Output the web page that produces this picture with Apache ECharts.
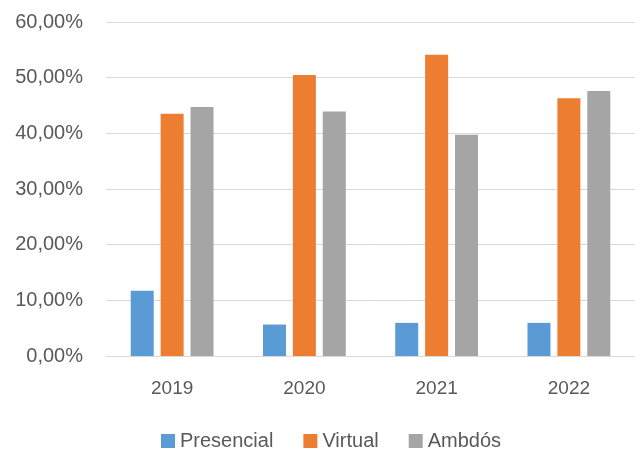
<!DOCTYPE html>
<html>
<head>
<meta charset="utf-8">
<script src="https://cdn.jsdelivr.net/npm/echarts@6/dist/echarts.min.js"></script>
<style>
  html, body { margin:0; padding:0; background:#fff; }
  #chart { width:635px; height:450px; }
</style>
</head>
<body>
<div id="chart"></div>
<script>
// dades (percentatges)
var anys = ['2019', '2020', '2021', '2022'];
var presencial = [11.7, 5.65, 5.95, 5.95];
var virtual = [43.5, 50.5, 54.1, 46.3];
var ambdos = [44.75, 43.9, 39.75, 47.6];
var yTicks = [0, 10, 20, 30, 40, 50, 60];

var font = '"Liberation Sans", Arial, sans-serif';
var txt = '#595959';

var myChart = echarts.init(document.getElementById('chart'));
myChart.setOption({
    animation: false,
    textStyle: { fontFamily: font },
    legend: {
        data: ['Presencial', 'Virtual', 'Ambdós'],
        left: 161,
        top: 431,
        padding: 0,
        itemWidth: 14,
        itemHeight: 14,
        itemGap: 30,
        icon: 'rect',
        textStyle: { color: txt, fontSize: 20, fontFamily: font }
    },
    grid: {
        left: 106,
        top: 22,
        width: 531,
        height: 334,
        containLabel: false
    },
    xAxis: {
        type: 'category',
        data: anys,
        axisLine: { lineStyle: { color: '#d9d9d9', width: 1 } },
        axisTick: { show: false },
        axisLabel: { color: txt, fontSize: 19, margin: 23, fontFamily: font }
    },
    yAxis: {
        type: 'value',
        min: yTicks[0],
        max: yTicks[yTicks.length - 1],
        interval: 10,
        axisLine: { show: false },
        axisTick: { show: false },
        axisLabel: {
            color: txt, fontSize: 20, margin: 23, fontFamily: font,
            formatter: function (v) { return v.toFixed(2).replace('.', ',') + '%'; }
        },
        splitLine: { lineStyle: { color: '#d9d9d9', width: 1 } }
    },
    series: [
        { name: 'Presencial', type: 'bar', data: presencial, barWidth: 23, barGap: '30%',
          itemStyle: { color: '#5b9bd5' } },
        { name: 'Virtual', type: 'bar', data: virtual, barWidth: 23, barGap: '30%',
          itemStyle: { color: '#ed7d31' } },
        { name: 'Ambdós', type: 'bar', data: ambdos, barWidth: 23, barGap: '30%',
          itemStyle: { color: '#a5a5a5' } }
    ]
});
</script>
</body>
</html>
